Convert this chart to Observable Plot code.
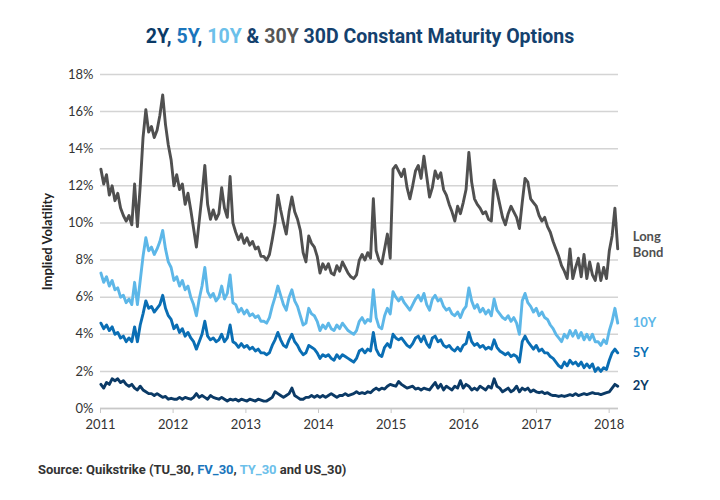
<!DOCTYPE html>
<html>
<head>
<meta charset="utf-8">
<script src="https://cdn.jsdelivr.net/npm/d3@7"></script>
<script src="https://cdn.jsdelivr.net/npm/@observablehq/plot@0.6"></script>
<style>
  html, body { margin: 0; padding: 0; background: #fff; }
  #wrap { width: 720px; height: 500px; position: relative; overflow: hidden; }
  #title { height: 56px; line-height: 74px; text-align: center; font-family: "Roboto", sans-serif; font-weight: 700; font-size: 19.5px; color: #14416e; }
  #caption { position: absolute; left: 38px; top: 462px; font-family: "Roboto", sans-serif; font-weight: 700; font-size: 13px; color: #333; }
</style>
</head>
<body>
<div id="wrap">
  <div id="title"><span style="color:#0b3a66">2Y</span>, <span style="color:#1a75bc">5Y</span>, <span style="color:#6cc0ea">10Y</span> &amp; <span style="color:#555">30Y</span> 30D Constant Maturity Options</div>
  <div id="chart"></div>
  <div id="caption">Source: Quikstrike (TU_30, <span style="color:#1a75bc">FV_30</span>, <span style="color:#6cc0ea">TY_30</span> and US_30)</div>
</div>
<script>
// Sampling grid: roughly every two weeks from early Jan 2011 to Feb 2018
const startDate = "2011-01-03";
const stepDays = 14.12;

const seriesNames = ["Long\nBond", "10Y", "5Y", "2Y"];
const seriesColors = ["#505050", "#5db7e8", "#0a6eb4", "#0b3a66"];
const yTicks = [0, 2, 4, 6, 8, 10, 12, 14, 16, 18];

const longBond = [
12.9,12.1,12.6,11.5,12.0,11.2,11.6,10.8,10.4,10.1,
10.4,9.9,12.1,9.8,12.0,14.6,16.1,14.9,15.2,14.6,
15.0,15.8,16.9,15.3,14.2,13.4,12.0,12.6,11.8,12.1,
11.0,11.6,10.7,9.7,8.7,10.1,11.5,13.1,11.0,10.2,
10.7,10.2,10.5,11.9,10.8,10.3,12.5,10.0,9.5,9.1,
9.4,8.9,9.2,8.8,9.0,8.6,8.7,8.2,8.2,8.0,
8.3,9.1,10.0,11.5,10.7,10.0,9.4,10.6,11.4,10.6,
10.2,9.6,8.4,7.9,9.3,8.9,8.7,8.2,7.3,7.8,
7.5,7.8,7.3,7.2,7.7,7.4,7.9,7.6,7.3,7.1,
7.0,7.2,8.0,8.3,8.0,8.4,8.1,11.3,8.5,8.0,
7.8,8.6,9.4,8.1,12.9,13.1,12.8,12.5,12.9,11.9,
11.3,12.0,12.8,13.1,12.4,13.6,12.5,11.4,11.9,12.8,
12.4,12.7,11.8,11.5,11.0,10.6,10.1,10.9,10.5,11.1,
11.8,13.8,12.2,11.3,11.0,10.8,10.5,10.6,10.2,10.1,
12.3,11.7,11.0,10.3,9.9,10.5,10.9,10.6,10.3,9.7,
11.1,12.4,12.2,11.3,11.1,10.9,10.4,10.1,10.3,9.8,
9.5,9.0,8.6,8.2,7.7,7.4,7.0,8.6,7.0,7.6,
8.1,7.1,8.3,7.0,7.9,7.2,6.9,7.8,6.9,7.6,
7.0,8.5,9.3,10.8,8.6
];

const tenY = [
7.3,6.8,7.1,6.6,6.9,6.4,6.5,6.0,6.1,5.7,
5.9,5.6,6.8,5.6,6.9,8.2,9.2,8.5,8.7,8.3,
8.6,9.0,9.6,8.6,7.9,7.6,6.9,7.1,6.6,6.9,
6.4,6.6,6.0,5.6,5.0,5.9,6.6,7.6,6.3,6.0,
6.2,5.8,6.0,6.6,5.9,6.2,7.2,5.7,5.6,5.2,
5.4,5.1,5.3,5.0,5.1,4.9,5.0,4.7,4.7,4.6,
4.9,5.5,6.0,6.6,6.1,5.6,5.3,6.0,6.4,5.8,
5.5,5.0,4.5,4.6,5.4,5.1,5.0,4.7,4.2,4.5,
4.3,4.6,4.3,4.2,4.5,4.3,4.6,4.4,4.2,4.1,
4.0,4.2,4.7,4.9,4.6,4.8,4.7,6.4,4.9,4.4,
4.3,5.0,5.4,5.1,6.3,6.0,5.8,6.0,5.7,5.5,
5.3,5.6,5.9,6.1,5.8,6.2,5.6,5.3,5.9,6.1,
5.8,5.9,5.5,5.3,5.4,5.1,5.0,5.2,4.9,5.3,
5.5,6.5,5.8,5.4,5.6,5.2,5.4,5.1,5.3,5.0,
5.9,5.3,5.1,4.9,4.8,5.0,4.7,4.9,4.6,4.0,
5.8,6.2,5.7,5.5,5.2,5.4,5.0,5.2,4.9,4.8,
4.5,4.3,4.0,3.8,3.6,4.0,3.8,4.2,3.9,4.2,
3.8,4.1,3.7,4.0,3.7,4.0,3.6,3.6,3.4,3.7,
3.5,4.2,4.7,5.4,4.6
];

const fiveY = [
4.6,4.3,4.5,4.2,4.4,4.0,4.1,3.8,3.9,3.6,
3.8,3.6,4.4,3.6,4.5,5.1,5.8,5.4,5.5,5.2,
5.4,5.6,6.1,5.4,5.0,4.8,4.3,4.5,4.1,4.3,
3.9,4.1,3.8,3.6,3.2,3.6,4.0,4.7,3.9,3.7,
3.8,3.6,3.7,4.0,3.6,3.8,4.5,3.6,3.5,3.3,
3.5,3.3,3.4,3.2,3.3,3.1,3.2,3.0,3.0,2.9,
3.0,3.4,3.7,4.1,3.7,3.4,3.3,3.7,4.0,3.6,
3.4,3.1,2.9,3.0,3.4,3.3,3.2,3.0,2.7,2.9,
2.8,2.9,2.7,2.6,2.9,2.7,2.9,2.8,2.7,2.6,
2.5,2.7,3.1,3.2,3.0,3.2,3.1,4.1,3.2,2.9,
2.8,3.3,3.5,3.3,4.0,3.8,3.7,3.8,3.6,3.4,
3.3,3.5,3.8,3.9,3.6,3.9,3.5,3.3,3.8,3.9,
3.6,3.7,3.4,3.3,3.4,3.2,3.1,3.3,3.1,3.4,
3.5,4.1,3.6,3.4,3.5,3.3,3.4,3.2,3.3,3.2,
3.7,3.3,3.1,3.0,2.9,3.0,2.8,2.9,2.8,2.5,
3.6,3.9,3.6,3.4,3.2,3.4,3.1,3.2,3.0,3.0,
2.8,2.7,2.5,2.3,2.2,2.5,2.3,2.6,2.4,2.5,
2.3,2.5,2.2,2.4,2.2,2.4,2.0,2.2,2.0,2.2,
2.1,2.6,3.0,3.2,3.0
];

const twoY = [
1.3,1.1,1.4,1.3,1.6,1.5,1.6,1.4,1.5,1.3,
1.2,1.3,1.1,1.0,1.2,1.0,0.9,0.8,0.8,0.7,
0.8,0.7,0.6,0.65,0.5,0.55,0.5,0.5,0.6,0.5,
0.6,0.55,0.5,0.6,0.8,0.6,0.7,0.6,0.5,0.7,
0.6,0.55,0.5,0.6,0.5,0.4,0.5,0.45,0.5,0.4,
0.5,0.45,0.4,0.5,0.45,0.4,0.5,0.45,0.4,0.4,
0.5,0.6,0.9,0.8,0.7,0.6,0.7,0.8,1.1,0.7,
0.6,0.5,0.5,0.6,0.6,0.7,0.6,0.7,0.6,0.7,
0.6,0.7,0.8,0.7,0.6,0.7,0.7,0.8,0.7,0.75,
0.8,0.9,0.8,0.85,0.8,0.9,0.85,1.0,1.1,1.0,
1.1,1.05,1.2,1.3,1.25,1.2,1.45,1.3,1.2,1.1,
1.15,1.2,1.05,1.1,1.0,1.1,1.05,1.0,1.2,1.4,
1.1,1.3,1.0,1.2,1.1,1.0,1.2,1.1,1.5,1.1,
1.3,1.2,1.0,1.1,1.0,1.2,1.1,1.0,1.2,1.1,
1.6,1.2,1.1,0.9,1.0,1.1,0.9,1.0,1.2,0.9,
1.1,1.0,1.1,0.9,1.0,0.9,0.85,0.9,0.8,0.85,
0.75,0.7,0.7,0.65,0.7,0.65,0.7,0.75,0.7,0.8,
0.7,0.75,0.8,0.75,0.8,0.85,0.8,0.8,0.75,0.8,
0.85,0.9,1.1,1.3,1.2
];

const allSeries = [longBond, tenY, fiveY, twoY];
const t0 = new Date(startDate + "T00:00:00Z").getTime();
const dateAt = i => new Date(t0 + i * stepDays * 864e5);

const rows = [];
allSeries.forEach((vals, s) => {
  vals.forEach((v, i) => rows.push({date: dateAt(i), value: v, series: s}));
});
const lastRows = allSeries.map((vals, s) => ({date: dateAt(vals.length - 1), value: vals[vals.length - 1], series: s, name: seriesNames[s]}));

const chart = Plot.plot({
  width: 720,
  height: 390,
  marginTop: 18,
  marginBottom: 38,
  marginLeft: 100,
  marginRight: 102,
  style: {fontFamily: "Lato, sans-serif", fontSize: "13px", color: "#333", background: "#fff"},
  x: {type: "utc", domain: [new Date("2011-01-01T00:00:00Z"), new Date("2018-02-17T00:00:00Z")]},
  y: {domain: [0, 18]},
  marks: [
    Plot.gridY(yTicks, {stroke: "#d4d4d4", strokeOpacity: 1, strokeWidth: 1.5}),
    Plot.axisY(yTicks, {tickSize: 0, tickPadding: 7, tickFormat: d => d + "%", label: "Implied Volatility", labelAnchor: "center", labelOffset: 58, fill: "#333"}),
    Plot.axisX({ticks: d3.utcYear.every(1), tickFormat: "%Y", tickSize: 5, tickPadding: 6, stroke: "#c8c8c8", fill: "#333", label: null}),
    Plot.ruleY([0], {stroke: "#c8c8c8", strokeWidth: 1.5}),
    Plot.line(rows, {x: "date", y: "value", z: "series", stroke: d => seriesColors[d.series], strokeWidth: 2.9, strokeLinejoin: "round"}),
    Plot.text(lastRows.slice(0, 1), {x: "date", y: "value", text: "name", fill: d => seriesColors[d.series], dx: 15, dy: -5, textAnchor: "start", fontWeight: "bold", fontSize: 13, lineHeight: 1.2}),
    Plot.text(lastRows.slice(1), {x: "date", y: "value", text: "name", fill: d => seriesColors[d.series], dx: 15, textAnchor: "start", fontWeight: "bold", fontSize: 13})
  ]
});
document.getElementById("chart").appendChild(chart);
// style the y-axis label (and drop the default arrow)
chart.querySelectorAll("text").forEach(t => {
  if (t.textContent.includes("Implied Volatility")) {
    t.textContent = "Implied Volatility";
    t.setAttribute("font-weight", "bold");
    t.setAttribute("fill", "#222");
  }
});
</script>
</body>
</html>
